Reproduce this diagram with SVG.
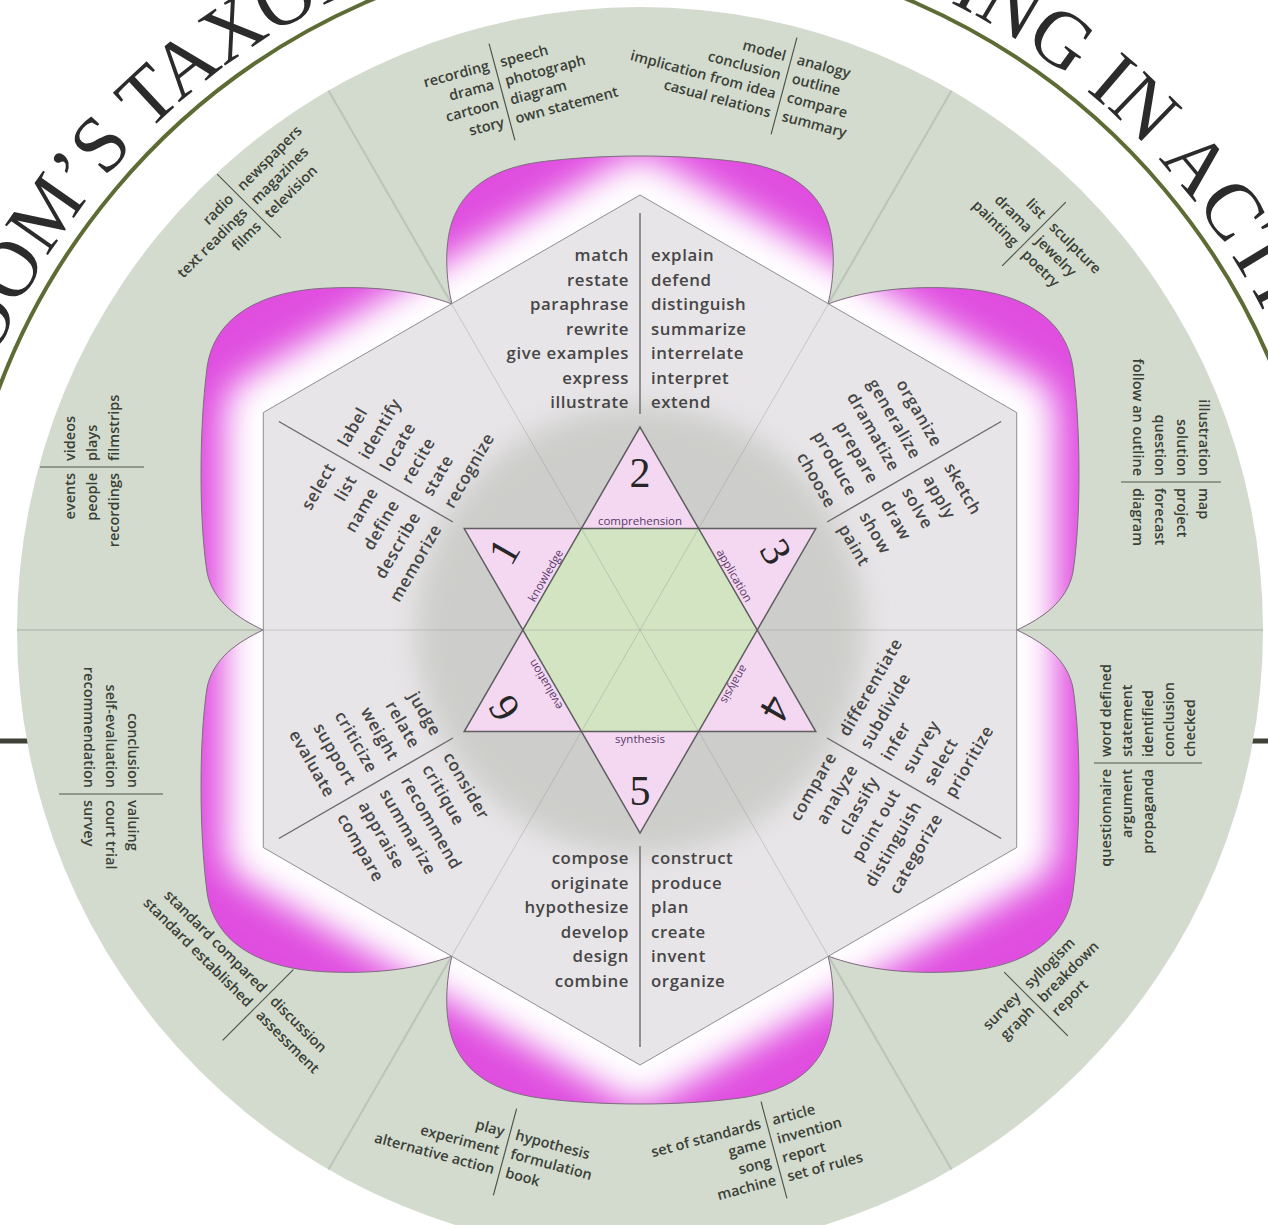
<svg xmlns="http://www.w3.org/2000/svg" width="1268" height="1225" viewBox="0 0 1268 1225">
<defs>
<style>
.rt{font-family:"Open Sans","DejaVu Sans",sans-serif;font-weight:600;font-size:16.8px;letter-spacing:0.6px;fill:#464646}
.ot{font-family:"Open Sans","DejaVu Sans",sans-serif;font-weight:600;font-size:14.5px;fill:#3a4036}
.e{text-anchor:end}
.dv{stroke:#6a6a6a;stroke-width:1.4}
.odv{stroke:#4f5549;stroke-width:1.2}
.num{font-family:"Liberation Serif",serif;font-size:42px;fill:#262626;text-anchor:middle}
.lab{font-family:"Open Sans","DejaVu Sans",sans-serif;font-size:11.5px;fill:#5a3868;text-anchor:middle}
.pfill{fill:#e04ee0}
.pline{fill:none;stroke:#7d6d7d;stroke-width:1}
.tip{fill:#f4d8f2;stroke:none}
.ray{stroke:#bcc3b8;stroke-width:2}
.iray{stroke:#9c9c9c;stroke-width:1;opacity:0.45}
</style>
<path id="pTop" d="M452,304 C446,280 444,246 452,222 C464,186 496,168 540,162 C600,154 680,154 740,162 C784,168 816,186 828,222 C836,246 834,280 828,304 Z"/>
<path id="pBot" d="M452,956 C446,980 444,1014 452,1038 C464,1074 496,1092 540,1098 C600,1106 680,1106 740,1098 C784,1092 816,1074 828,1038 C836,1014 834,980 828,956 Z"/>
<path id="pUL" d="M452,304 C420,292 380,286 330,288 C262,290 214,316 207,368 C199,430 199,520 207,572 C213,602 238,618 263,630 Z"/>
<path id="pUR" d="M828,304 C860,292 900,286 950,288 C1018,290 1066,316 1073,368 C1081,430 1081,520 1073,572 C1067,602 1042,618 1017,630 Z"/>
<path id="pLL" d="M452,956 C420,968 380,974 330,972 C262,970 214,944 207,892 C199,830 199,740 207,688 C213,658 238,642 263,630 Z"/>
<path id="pLR" d="M828,956 C860,968 900,974 950,972 C1018,970 1066,944 1073,892 C1081,830 1081,740 1073,688 C1067,658 1042,642 1017,630 Z"/>
<clipPath id="petalClip">
<use href="#pTop"/><use href="#pBot"/><use href="#pUL"/><use href="#pUR"/><use href="#pLL"/><use href="#pLR"/>
</clipPath>
<filter id="soft" x="-30%" y="-30%" width="160%" height="160%"><feGaussianBlur stdDeviation="14"/></filter>
<filter id="glow" x="-20%" y="-20%" width="140%" height="140%"><feGaussianBlur stdDeviation="17"/></filter>
<path id="titlePath" d="M -60 630 A 700 700 0 0 1 1340 630"/>
</defs>
<rect width="1268" height="1225" fill="#ffffff"/>
<line x1="0" y1="741" x2="1268" y2="741" stroke="#3f4036" stroke-width="5"/>
<path d="M -34.6 748.9 A 685 685 0 1 1 1314.6 748.9" fill="none" stroke="#5d6b34" stroke-width="4"/>
<text font-family="Liberation Serif,serif" font-size="80" fill="#2b2b2b"><textPath href="#titlePath" startOffset="175">BLOOM’S TAXONOMY OF LEARNING IN ACTION</textPath></text>
<circle cx="640" cy="630" r="623" fill="#d3dbcf"/>
<g id="connectors">
<line class="ray" x1="1016.7" y1="630" x2="1263" y2="630"/>
<line class="ray" x1="263.3" y1="630" x2="17" y2="630"/>
<line class="ray" x1="828.4" y1="303.8" x2="951.5" y2="90.5"/>
<line class="ray" x1="451.6" y1="303.8" x2="328.5" y2="90.5"/>
<line class="ray" x1="828.4" y1="956.2" x2="951.5" y2="1169.5"/>
<line class="ray" x1="451.6" y1="956.2" x2="328.5" y2="1169.5"/>
</g>
<g id="petals">
<use href="#pTop" class="pfill"/><use href="#pBot" class="pfill"/><use href="#pUL" class="pfill"/><use href="#pUR" class="pfill"/><use href="#pLL" class="pfill"/><use href="#pLR" class="pfill"/>
<g clip-path="url(#petalClip)">
<polygon points="640,195 1016.7,412.5 1016.7,847.5 640,1065 263.3,847.5 263.3,412.5" fill="#fff" stroke="#fff" stroke-width="78" stroke-linejoin="round" filter="url(#glow)"/>
</g>
<use href="#pTop" class="pline"/><use href="#pBot" class="pline"/><use href="#pUL" class="pline"/><use href="#pUR" class="pline"/><use href="#pLL" class="pline"/><use href="#pLR" class="pline"/>
</g>
<g id="hexagon">
<polygon points="640,195 1016.7,412.5 1016.7,847.5 640,1065 263.3,847.5 263.3,412.5" fill="#e8e5e8" stroke="#8f8f8f" stroke-width="1"/>
<circle cx="640" cy="630" r="224" fill="#cdcecb" filter="url(#soft)"/>
</g>
<g id="region-comprehension" transform="translate(640,630)">
<line class="dv" x1="0" y1="-417" x2="0" y2="-216"/>
<text class="rt e" x="-11" y="-369">match</text>
<text class="rt e" x="-11" y="-344.5">restate</text>
<text class="rt e" x="-11" y="-320">paraphrase</text>
<text class="rt e" x="-11" y="-295.5">rewrite</text>
<text class="rt e" x="-11" y="-271">give examples</text>
<text class="rt e" x="-11" y="-246.5">express</text>
<text class="rt e" x="-11" y="-222">illustrate</text>
<text class="rt" x="11" y="-369">explain</text>
<text class="rt" x="11" y="-344.5">defend</text>
<text class="rt" x="11" y="-320">distinguish</text>
<text class="rt" x="11" y="-295.5">summarize</text>
<text class="rt" x="11" y="-271">interrelate</text>
<text class="rt" x="11" y="-246.5">interpret</text>
<text class="rt" x="11" y="-222">extend</text>
</g>
<g id="region-knowledge" transform="translate(640,630) rotate(-60)">
<line class="dv" x1="0" y1="-417" x2="0" y2="-216"/>
<text class="rt e" x="-11" y="-344.5">select</text>
<text class="rt e" x="-11" y="-320">list</text>
<text class="rt e" x="-11" y="-295.5">name</text>
<text class="rt e" x="-11" y="-271">define</text>
<text class="rt e" x="-11" y="-246.5">describe</text>
<text class="rt e" x="-11" y="-222">memorize</text>
<text class="rt" x="11" y="-344.5">label</text>
<text class="rt" x="11" y="-320">identify</text>
<text class="rt" x="11" y="-295.5">locate</text>
<text class="rt" x="11" y="-271">recite</text>
<text class="rt" x="11" y="-246.5">state</text>
<text class="rt" x="11" y="-222">recognize</text>
</g>
<g id="region-application" transform="translate(640,630) rotate(60)">
<line class="dv" x1="0" y1="-417" x2="0" y2="-216"/>
<text class="rt e" x="-11" y="-344.5">organize</text>
<text class="rt e" x="-11" y="-320">generalize</text>
<text class="rt e" x="-11" y="-295.5">dramatize</text>
<text class="rt e" x="-11" y="-271">prepare</text>
<text class="rt e" x="-11" y="-246.5">produce</text>
<text class="rt e" x="-11" y="-222">choose</text>
<text class="rt" x="11" y="-344.5">sketch</text>
<text class="rt" x="11" y="-320">apply</text>
<text class="rt" x="11" y="-295.5">solve</text>
<text class="rt" x="11" y="-271">draw</text>
<text class="rt" x="11" y="-246.5">show</text>
<text class="rt" x="11" y="-222">paint</text>
</g>
<g id="region-analysis" transform="translate(640,630) rotate(-60)">
<line class="dv" x1="0" y1="216" x2="0" y2="417"/>
<text class="rt e" x="-11" y="234">compare</text>
<text class="rt e" x="-11" y="258.5">analyze</text>
<text class="rt e" x="-11" y="283">classify</text>
<text class="rt e" x="-11" y="307.5">point out</text>
<text class="rt e" x="-11" y="332">distinguish</text>
<text class="rt e" x="-11" y="356.5">categorize</text>
<text class="rt" x="11" y="234">differentiate</text>
<text class="rt" x="11" y="258.5">subdivide</text>
<text class="rt" x="11" y="283">infer</text>
<text class="rt" x="11" y="307.5">survey</text>
<text class="rt" x="11" y="332">select</text>
<text class="rt" x="11" y="356.5">prioritize</text>
</g>
<g id="region-synthesis" transform="translate(640,630)">
<line class="dv" x1="0" y1="216" x2="0" y2="417"/>
<text class="rt e" x="-11" y="234">compose</text>
<text class="rt e" x="-11" y="258.5">originate</text>
<text class="rt e" x="-11" y="283">hypothesize</text>
<text class="rt e" x="-11" y="307.5">develop</text>
<text class="rt e" x="-11" y="332">design</text>
<text class="rt e" x="-11" y="356.5">combine</text>
<text class="rt" x="11" y="234">construct</text>
<text class="rt" x="11" y="258.5">produce</text>
<text class="rt" x="11" y="283">plan</text>
<text class="rt" x="11" y="307.5">create</text>
<text class="rt" x="11" y="332">invent</text>
<text class="rt" x="11" y="356.5">organize</text>
</g>
<g id="region-evaluation" transform="translate(640,630) rotate(60)">
<line class="dv" x1="0" y1="216" x2="0" y2="417"/>
<text class="rt e" x="-11" y="234">judge</text>
<text class="rt e" x="-11" y="258.5">relate</text>
<text class="rt e" x="-11" y="283">weight</text>
<text class="rt e" x="-11" y="307.5">criticize</text>
<text class="rt e" x="-11" y="332">support</text>
<text class="rt e" x="-11" y="356.5">evaluate</text>
<text class="rt" x="11" y="234">consider</text>
<text class="rt" x="11" y="258.5">critique</text>
<text class="rt" x="11" y="283">recommend</text>
<text class="rt" x="11" y="307.5">summarize</text>
<text class="rt" x="11" y="332">appraise</text>
<text class="rt" x="11" y="356.5">compare</text>
</g>
<g id="star">
<polygon points="581.4,528.5 698.6,528.5 757.2,630 698.6,731.5 581.4,731.5 522.8,630" fill="#d3e4c3"/>
<polygon class="tip" points="640,427 581.4,528.5 698.6,528.5"/>
<polygon class="tip" points="815.8,528.5 698.6,528.5 757.2,630"/>
<polygon class="tip" points="815.8,731.5 757.2,630 698.6,731.5"/>
<polygon class="tip" points="640,833 698.6,731.5 581.4,731.5"/>
<polygon class="tip" points="464.2,731.5 581.4,731.5 522.8,630"/>
<polygon class="tip" points="464.2,528.5 522.8,630 581.4,528.5"/>
<line class="iray" x1="640" y1="630" x2="1016.7" y2="630"/>
<line class="iray" x1="640" y1="630" x2="263.3" y2="630"/>
<line class="iray" x1="640" y1="630" x2="828.4" y2="303.8"/>
<line class="iray" x1="640" y1="630" x2="451.6" y2="303.8"/>
<line class="iray" x1="640" y1="630" x2="828.4" y2="956.2"/>
<line class="iray" x1="640" y1="630" x2="451.6" y2="956.2"/>
<polygon points="640,427 815.8,731.5 464.2,731.5" fill="none" stroke="#5e5e5e" stroke-width="1.5"/>
<polygon points="464.2,528.5 815.8,528.5 640,833" fill="none" stroke="#5e5e5e" stroke-width="1.5"/>
</g>
<g id="level-2" transform="translate(640,630)"><text class="num" y="-143">2</text><text class="lab" y="-105">comprehension</text></g>
<g id="level-3" transform="translate(640,630) rotate(60)"><text class="num" y="-143">3</text><text class="lab" y="-105">application</text></g>
<g id="level-4" transform="translate(640,630) rotate(120)"><text class="num" y="-143">4</text><text class="lab" y="-105">analysis</text></g>
<g id="level-1" transform="translate(640,630) rotate(-60)"><text class="num" y="-143">1</text><text class="lab" y="-105">knowledge</text></g>
<g id="level-6" transform="translate(640,630) rotate(-120)"><text class="num" y="-143">6</text><text class="lab" y="-105">evaluation</text></g>
<g id="level-5" transform="translate(640,630)"><text class="num" y="175">5</text><text class="lab" y="113">synthesis</text></g>
<g id="out-radio" transform="translate(249,206) rotate(-45)">
<line class="odv" x1="0" y1="-45" x2="0" y2="45"/>
<text class="ot e" x="-6" y="-14.5">radio</text><text class="ot e" x="-6" y="5">text readings</text><text class="ot e" x="-6" y="24.5">films</text>
<text class="ot" x="6" y="-14.5">newspapers</text><text class="ot" x="6" y="5">magazines</text><text class="ot" x="6" y="24.5">television</text>
</g>
<g id="out-recording" transform="translate(502,92) rotate(-15)">
<line class="odv" x1="0" y1="-50" x2="0" y2="50"/>
<text class="ot e" x="-6" y="-24.25">recording</text><text class="ot e" x="-6" y="-4.75">drama</text><text class="ot e" x="-6" y="14.75">cartoon</text><text class="ot e" x="-6" y="34.25">story</text>
<text class="ot" x="6" y="-24.25">speech</text><text class="ot" x="6" y="-4.75">photograph</text><text class="ot" x="6" y="14.75">diagram</text><text class="ot" x="6" y="34.25">own statement</text>
</g>
<g id="out-model" transform="translate(784,86) rotate(15)">
<line class="odv" x1="0" y1="-50" x2="0" y2="50"/>
<text class="ot e" x="-6" y="-24.25">model</text><text class="ot e" x="-6" y="-4.75">conclusion</text><text class="ot e" x="-6" y="14.75">implication from idea</text><text class="ot e" x="-6" y="34.25">casual relations</text>
<text class="ot" x="6" y="-24.25">analogy</text><text class="ot" x="6" y="-4.75">outline</text><text class="ot" x="6" y="14.75">compare</text><text class="ot" x="6" y="34.25">summary</text>
</g>
<g id="out-list" transform="translate(1034,234) rotate(45)">
<line class="odv" x1="0" y1="-45" x2="0" y2="45"/>
<text class="ot e" x="-6" y="-14.5">list</text><text class="ot e" x="-6" y="5">drama</text><text class="ot e" x="-6" y="24.5">painting</text>
<text class="ot" x="6" y="-14.5">sculpture</text><text class="ot" x="6" y="5">jewelry</text><text class="ot" x="6" y="24.5">poetry</text>
</g>
<g id="out-illustration" transform="translate(1171,482) rotate(90)">
<line class="odv" x1="0" y1="-50" x2="0" y2="50"/>
<text class="ot e" x="-6" y="-28">illustration</text><text class="ot e" x="-6" y="-6">solution</text><text class="ot e" x="-6" y="16">question</text><text class="ot e" x="-6" y="38">follow an outline</text>
<text class="ot" x="6" y="-28">map</text><text class="ot" x="6" y="-6">project</text><text class="ot" x="6" y="16">forecast</text><text class="ot" x="6" y="38">diagram</text>
</g>
<g id="out-worddefined" transform="translate(1148,763) rotate(-90)">
<line class="odv" x1="0" y1="-54" x2="0" y2="54"/>
<text class="ot e" x="-6" y="-37">questionnaire</text><text class="ot e" x="-6" y="-16">argument</text><text class="ot e" x="-6" y="5">propaganda</text>
<text class="ot" x="6" y="-37">word defined</text><text class="ot" x="6" y="-16">statement</text><text class="ot" x="6" y="5">identified</text><text class="ot" x="6" y="26">conclusion</text><text class="ot" x="6" y="47">checked</text>
</g>
<g id="out-survey" transform="translate(1036,1004) rotate(-45)">
<line class="odv" x1="0" y1="-45" x2="0" y2="45"/>
<text class="ot e" x="-6" y="-14.5">survey</text><text class="ot e" x="-6" y="5">graph</text>
<text class="ot" x="6" y="-14.5">syllogism</text><text class="ot" x="6" y="5">breakdown</text><text class="ot" x="6" y="24.5">report</text>
</g>
<g id="out-standards" transform="translate(774,1150) rotate(-15)">
<line class="odv" x1="0" y1="-50" x2="0" y2="50"/>
<text class="ot e" x="-6" y="-24.25">set of standards</text><text class="ot e" x="-6" y="-4.75">game</text><text class="ot e" x="-6" y="14.75">song</text><text class="ot e" x="-6" y="34.25">machine</text>
<text class="ot" x="6" y="-24.25">article</text><text class="ot" x="6" y="-4.75">invention</text><text class="ot" x="6" y="14.75">report</text><text class="ot" x="6" y="34.25">set of rules</text>
</g>
<g id="out-play" transform="translate(505,1152) rotate(15)">
<line class="odv" x1="0" y1="-45" x2="0" y2="45"/>
<text class="ot e" x="-6" y="-14.5">play</text><text class="ot e" x="-6" y="5">experiment</text><text class="ot e" x="-6" y="24.5">alternative action</text>
<text class="ot" x="6" y="-14.5">hypothesis</text><text class="ot" x="6" y="5">formulation</text><text class="ot" x="6" y="24.5">book</text>
</g>
<g id="out-standard" transform="translate(258,1005) rotate(45)">
<line class="odv" x1="0" y1="-50" x2="0" y2="50"/>
<text class="ot e" x="-6" y="-10">standard compared</text><text class="ot e" x="-6" y="10">standard established</text>
<text class="ot" x="6" y="-10">discussion</text><text class="ot" x="6" y="10">assessment</text>
</g>
<g id="out-conclusion" transform="translate(111,794) rotate(90)">
<line class="odv" x1="0" y1="-52" x2="0" y2="52"/>
<text class="ot e" x="-6" y="-17">conclusion</text><text class="ot e" x="-6" y="5">self-evaluation</text><text class="ot e" x="-6" y="27">recommendation</text>
<text class="ot" x="6" y="-17">valuing</text><text class="ot" x="6" y="5">court trial</text><text class="ot" x="6" y="27">survey</text>
</g>
<g id="out-events" transform="translate(92,467) rotate(-90)">
<line class="odv" x1="0" y1="-52" x2="0" y2="52"/>
<text class="ot e" x="-6" y="-17">events</text><text class="ot e" x="-6" y="5">people</text><text class="ot e" x="-6" y="27">recordings</text>
<text class="ot" x="6" y="-17">videos</text><text class="ot" x="6" y="5">plays</text><text class="ot" x="6" y="27">filmstrips</text>
</g>
</svg>
